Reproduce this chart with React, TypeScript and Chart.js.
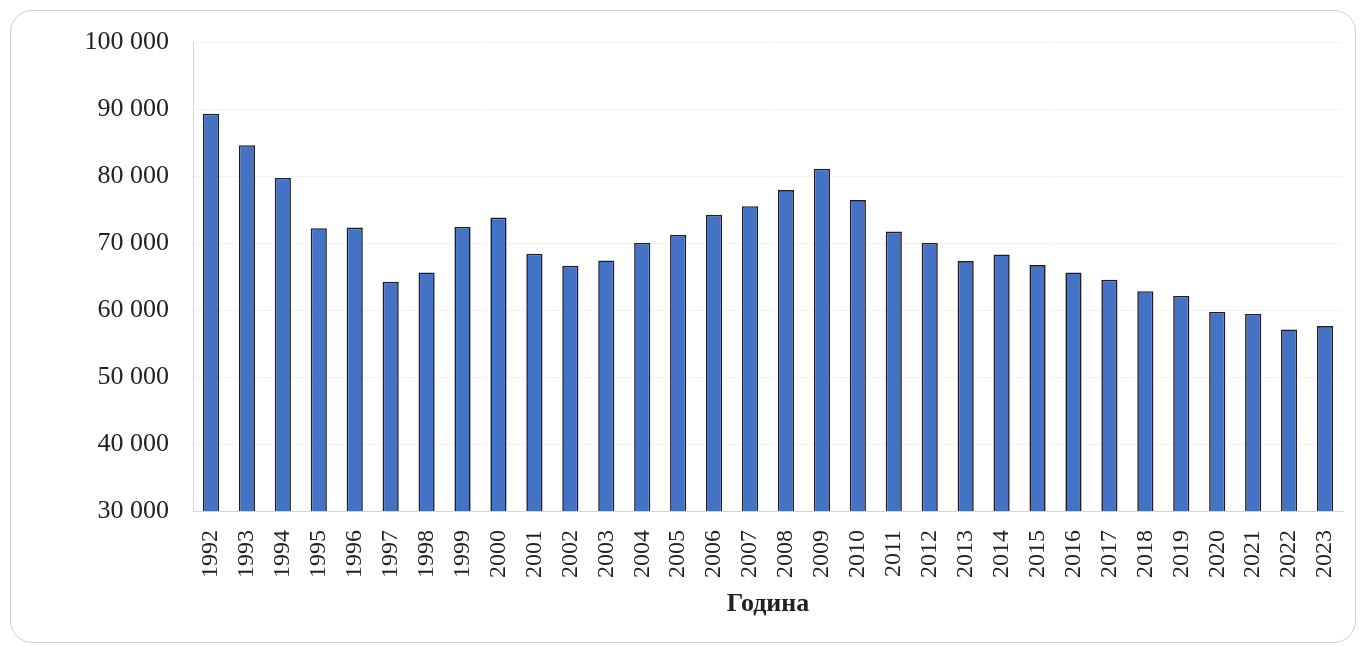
import React, { useEffect, useRef } from "react";
import { Chart, registerables } from "chart.js";

Chart.register(...registerables);

const years: string[] = [
  "1992", "1993", "1994", "1995", "1996", "1997", "1998", "1999", "2000", "2001",
  "2002", "2003", "2004", "2005", "2006", "2007", "2008", "2009", "2010", "2011",
  "2012", "2013", "2014", "2015", "2016", "2017", "2018", "2019", "2020", "2021",
  "2022", "2023",
];

const values: number[] = [
  89300, 84600, 79700, 72200, 72300, 64200, 65600, 72400, 73800, 68400,
  66600, 67400, 70000, 71200, 74200, 75500, 77900, 81100, 76400, 71700,
  70000, 67300, 68300, 66700, 65600, 64500, 62800, 62100, 59700, 59400,
  57100, 57600,
];

const yMin = 30000;
const yMax = 100000;
const yStep = 10000;
const xTitle = "Година";

const fmt = (v: number) => String(v).replace(/\B(?=(\d{3})+(?!\d))/g, " ");

export default function App() {
  const ref = useRef<HTMLCanvasElement | null>(null);

  useEffect(() => {
    if (!ref.current) return;
    const chart = new Chart(ref.current, {
      type: "bar",
      data: {
        labels: years,
        datasets: [
          {
            data: values,
            backgroundColor: "#4472C4",
            borderColor: "#1c1f2b",
            borderWidth: 1.6,
            barPercentage: 0.45,
            categoryPercentage: 1,
          },
        ],
      },
      options: {
        animation: false,
        responsive: false,
        maintainAspectRatio: false,
        layout: { padding: { left: 10, right: 19, top: 42, bottom: 27 } },
        plugins: { legend: { display: false }, tooltip: { enabled: false } },
        scales: {
          x: {
            afterFit: (scale: any) => {
              scale.height = 109;
              scale.paddingLeft = 0;
              scale.paddingRight = 0;
            },
            grid: { display: false, drawTicks: false },
            border: { display: true, color: "#d4d4d4", width: 1 },
            ticks: {
              color: "#222",
              font: { family: "Liberation Serif", size: 24 },
              maxRotation: 90,
              minRotation: 90,
              padding: 19,
              autoSkip: false,
            },
            title: {
              display: true,
              text: xTitle,
              color: "#222",
              font: { family: "Liberation Serif", size: 26, weight: "bold" },
              padding: { top: 0, bottom: 0 },
            },
          },
          y: {
            min: yMin,
            max: yMax,
            afterFit: (scale: any) => {
              scale.width = 183;
              scale.paddingTop = 0;
              scale.paddingBottom = 0;
            },
            grid: { color: "#f3f3f3", drawTicks: false },
            border: { display: true, color: "#d4d4d4", width: 1 },
            ticks: {
              stepSize: yStep,
              color: "#222",
              font: { family: "Liberation Serif", size: 26 },
              padding: 24,
              callback: (v: any) => fmt(Number(v)),
            },
          },
        },
      },
    });
    return () => chart.destroy();
  }, []);

  return (
    <div style={{ position: "absolute", left: 0, top: 0, width: 1362, height: 647, background: "#fff", overflow: "hidden" }}>
      <div
        style={{
          position: "absolute",
          left: 10,
          top: 10,
          width: 1346,
          height: 633,
          border: "1px solid #cfcfcf",
          borderRadius: 22,
          boxSizing: "border-box",
        }}
      />
      <canvas ref={ref} width={1362} height={647} style={{ position: "absolute", left: 0, top: 0, width: 1362, height: 647 }} />
    </div>
  );
}
